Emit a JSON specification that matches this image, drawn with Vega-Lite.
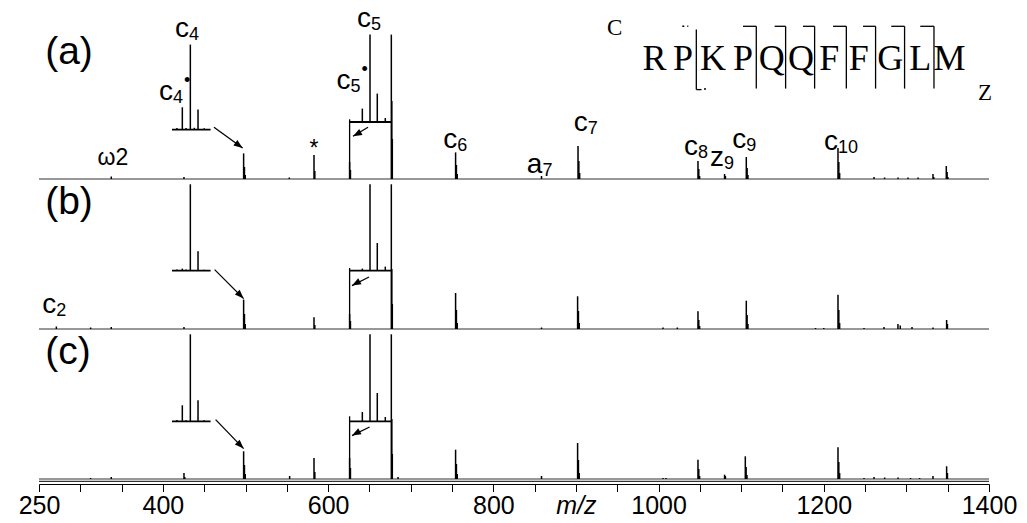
{
  "$schema": "https://vega.github.io/schema/vega-lite/v6.json",
  "padding": {"left": 18, "top": 4, "right": 5, "bottom": 5},
  "background": "white",
  "config": {"view": {"stroke": null}},
  "data": {"values": [
    {"panel":"a","kind":"base","mz":250,"mz2":1400,"y":0},
    {"panel":"b","kind":"base","mz":250,"mz2":1400,"y":0},
    {"panel":"c","kind":"base","mz":250,"mz2":1400,"y":0},
    {"panel":"c","kind":"ax","mz":250,"mz2":1400,"y":-2.3},

    {"panel":"a","kind":"ib","mz":411,"mz2":457.7,"y":49.4},
    {"panel":"a","kind":"ib","mz":626,"mz2":676.5,"y":57},
    {"panel":"b","kind":"ib","mz":411,"mz2":457.7,"y":58.4},
    {"panel":"b","kind":"ib","mz":626,"mz2":676.5,"y":58.4},
    {"panel":"c","kind":"ib","mz":411,"mz2":457.7,"y":57.7},
    {"panel":"c","kind":"ib","mz":626,"mz2":676.5,"y":57.7},

    {"panel":"a","kind":"ln","mz":626,"mz2":626,"y":0,"y2":59.7},
    {"panel":"a","kind":"ln","mz":461.8,"mz2":496.5,"y":51.7,"y2":31},
    {"panel":"a","kind":"ln","mz":648.3,"mz2":630.1,"y":51.7,"y2":42.7},
    {"panel":"b","kind":"ln","mz":626,"mz2":626,"y":0,"y2":61},
    {"panel":"b","kind":"ln","mz":462.6,"mz2":497.7,"y":59.4,"y2":30.4},
    {"panel":"b","kind":"ln","mz":649.5,"mz2":628.9,"y":52,"y2":43.4},
    {"panel":"c","kind":"ln","mz":626,"mz2":626,"y":0,"y2":62.7},
    {"panel":"c","kind":"ln","mz":463.8,"mz2":497.7,"y":59.4,"y2":30.4},
    {"panel":"c","kind":"ln","mz":650.2,"mz2":628.9,"y":52,"y2":43.4},

    {"panel":"a","kind":"ln","mz":1118.3,"mz2":1118.3,"y":90.4,"y2":152.7},
    {"panel":"a","kind":"ln","mz":1153.8,"mz2":1153.8,"y":90.4,"y2":152.7},
    {"panel":"a","kind":"ln","mz":1188.9,"mz2":1188.9,"y":90.4,"y2":152.7},
    {"panel":"a","kind":"ln","mz":1227.3,"mz2":1227.3,"y":90.4,"y2":152.7},
    {"panel":"a","kind":"ln","mz":1262.7,"mz2":1262.7,"y":90.4,"y2":152.7},
    {"panel":"a","kind":"ln","mz":1297.8,"mz2":1297.8,"y":90.4,"y2":152.7},
    {"panel":"a","kind":"ln","mz":1333.4,"mz2":1333.4,"y":90.4,"y2":152.7},
    {"panel":"a","kind":"ln","mz":1102.2,"mz2":1118.3,"y":152.7,"y2":152.7},
    {"panel":"a","kind":"ln","mz":1140.5,"mz2":1153.8,"y":152.7,"y2":152.7},
    {"panel":"a","kind":"ln","mz":1174.8,"mz2":1188.9,"y":152.7,"y2":152.7},
    {"panel":"a","kind":"ln","mz":1211.2,"mz2":1227.3,"y":152.7,"y2":152.7},
    {"panel":"a","kind":"ln","mz":1247.5,"mz2":1262.7,"y":152.7,"y2":152.7},
    {"panel":"a","kind":"ln","mz":1281.7,"mz2":1297.8,"y":152.7,"y2":152.7},
    {"panel":"a","kind":"ln","mz":1316.8,"mz2":1333.4,"y":152.7,"y2":152.7},
    {"panel":"a","kind":"ln","mz":1045.7,"mz2":1045.7,"y":89.4,"y2":149.4},
    {"panel":"a","kind":"ln","mz":1045.7,"mz2":1052,"y":89.4,"y2":89.4},
    {"panel":"a","kind":"dash","mz":1028.7,"mz2":1036,"y":152.7,"y2":152.7},
    {"panel":"a","kind":"dash","mz":1055,"mz2":1061,"y":90,"y2":90},

    {"panel":"a","kind":"ha","mz":496.5,"y":31},
    {"panel":"b","kind":"hb","mz":497.7,"y":30.4},
    {"panel":"c","kind":"hb","mz":497.7,"y":30.4},
    {"panel":"a","kind":"hc","mz":630.1,"y":42.7},
    {"panel":"b","kind":"hc","mz":628.9,"y":43.4},
    {"panel":"c","kind":"hc","mz":628.9,"y":43.4},

    {"panel":"a","kind":"pk","mz":337.5,"y":2.5,"y2":0},
    {"panel":"a","kind":"pk","mz":425.5,"y":2,"y2":0},
    {"panel":"a","kind":"pk","mz":553,"y":1.5,"y2":0},
    {"panel":"a","kind":"pk","mz":497.7,"y":25.6,"y2":0},
    {"panel":"a","kind":"pk","mz":498.7,"y":12,"y2":0},
    {"panel":"a","kind":"pk","mz":499.7,"y":4,"y2":0},
    {"panel":"a","kind":"pk","mz":582.9,"y":24,"y2":0},
    {"panel":"a","kind":"pk","mz":583.9,"y":8,"y2":0},
    {"panel":"a","kind":"pk","mz":626,"y":17,"y2":0},
    {"panel":"a","kind":"pk","mz":627,"y":9,"y2":0},
    {"panel":"a","kind":"pk","mz":676.5,"y":144.4,"y2":0},
    {"panel":"a","kind":"pk","mz":677.1,"y":78,"y2":0},
    {"panel":"a","kind":"pk","mz":677.7,"y":40,"y2":0},
    {"panel":"a","kind":"pk","mz":754.3,"y":26.6,"y2":0},
    {"panel":"a","kind":"pk","mz":755.3,"y":14,"y2":0},
    {"panel":"a","kind":"pk","mz":756.3,"y":5,"y2":0},
    {"panel":"a","kind":"pk","mz":858.3,"y":3,"y2":0},
    {"panel":"a","kind":"pk","mz":902.5,"y":33,"y2":0},
    {"panel":"a","kind":"pk","mz":903.5,"y":18,"y2":0},
    {"panel":"a","kind":"pk","mz":904.5,"y":6,"y2":0},
    {"panel":"a","kind":"pk","mz":1047.7,"y":18,"y2":0},
    {"panel":"a","kind":"pk","mz":1048.7,"y":10,"y2":0},
    {"panel":"a","kind":"pk","mz":1049.7,"y":3,"y2":0},
    {"panel":"a","kind":"pk","mz":1079.9,"y":5,"y2":0},
    {"panel":"a","kind":"pk","mz":1080.9,"y":3,"y2":0},
    {"panel":"a","kind":"pk","mz":1106.2,"y":22,"y2":0},
    {"panel":"a","kind":"pk","mz":1107.2,"y":11,"y2":0},
    {"panel":"a","kind":"pk","mz":1108.2,"y":4,"y2":0},
    {"panel":"a","kind":"pk","mz":1217.2,"y":31,"y2":0},
    {"panel":"a","kind":"pk","mz":1218.2,"y":17,"y2":0},
    {"panel":"a","kind":"pk","mz":1219.2,"y":6,"y2":0},
    {"panel":"a","kind":"pk","mz":1260.8,"y":2,"y2":0},
    {"panel":"a","kind":"pk","mz":1273.6,"y":1.5,"y2":0},
    {"panel":"a","kind":"pk","mz":1289.9,"y":1.5,"y2":0},
    {"panel":"a","kind":"pk","mz":1302,"y":1.5,"y2":0},
    {"panel":"a","kind":"pk","mz":1314.1,"y":1.5,"y2":0},
    {"panel":"a","kind":"pk","mz":1332.2,"y":5,"y2":0},
    {"panel":"a","kind":"pk","mz":1333.2,"y":2,"y2":0},
    {"panel":"a","kind":"pk","mz":1348.3,"y":13,"y2":0},
    {"panel":"a","kind":"pk","mz":1349.3,"y":7,"y2":0},
    {"panel":"a","kind":"pk","mz":1350.3,"y":2,"y2":0},
    {"panel":"a","kind":"pk","mz":417,"y":51,"y2":49.4},
    {"panel":"a","kind":"pk","mz":423.5,"y":71.7,"y2":49.4},
    {"panel":"a","kind":"pk","mz":428,"y":51,"y2":49.4},
    {"panel":"a","kind":"pk","mz":433.2,"y":134.4,"y2":49.4},
    {"panel":"a","kind":"pk","mz":438,"y":51.2,"y2":49.4},
    {"panel":"a","kind":"pk","mz":442.5,"y":69.4,"y2":49.4},
    {"panel":"a","kind":"pk","mz":450,"y":50.8,"y2":49.4},
    {"panel":"a","kind":"pk","mz":641.4,"y":70.4,"y2":57},
    {"panel":"a","kind":"pk","mz":650.7,"y":144.4,"y2":57},
    {"panel":"a","kind":"pk","mz":659.5,"y":85.4,"y2":57},
    {"panel":"a","kind":"pk","mz":669.2,"y":61,"y2":57},

    {"panel":"b","kind":"pk","mz":271,"y":2.5,"y2":0},
    {"panel":"b","kind":"pk","mz":312.5,"y":1.5,"y2":0},
    {"panel":"b","kind":"pk","mz":337.5,"y":2,"y2":0},
    {"panel":"b","kind":"pk","mz":425.5,"y":2,"y2":0},
    {"panel":"b","kind":"pk","mz":497.7,"y":29.4,"y2":0},
    {"panel":"b","kind":"pk","mz":498.7,"y":15,"y2":0},
    {"panel":"b","kind":"pk","mz":499.7,"y":5,"y2":0},
    {"panel":"b","kind":"pk","mz":582.9,"y":11.7,"y2":0},
    {"panel":"b","kind":"pk","mz":583.9,"y":4,"y2":0},
    {"panel":"b","kind":"pk","mz":626,"y":15,"y2":0},
    {"panel":"b","kind":"pk","mz":627,"y":8,"y2":0},
    {"panel":"b","kind":"pk","mz":676.5,"y":144.7,"y2":0},
    {"panel":"b","kind":"pk","mz":677.1,"y":60,"y2":0},
    {"panel":"b","kind":"pk","mz":677.7,"y":25,"y2":0},
    {"panel":"b","kind":"pk","mz":754.3,"y":36,"y2":0},
    {"panel":"b","kind":"pk","mz":755.3,"y":19,"y2":0},
    {"panel":"b","kind":"pk","mz":756.3,"y":6,"y2":0},
    {"panel":"b","kind":"pk","mz":858.3,"y":1.5,"y2":0},
    {"panel":"b","kind":"pk","mz":902,"y":32.7,"y2":0},
    {"panel":"b","kind":"pk","mz":903,"y":18,"y2":0},
    {"panel":"b","kind":"pk","mz":904,"y":6,"y2":0},
    {"panel":"b","kind":"pk","mz":1005.4,"y":1.5,"y2":0},
    {"panel":"b","kind":"pk","mz":1022.7,"y":1.5,"y2":0},
    {"panel":"b","kind":"pk","mz":1047.7,"y":17.7,"y2":0},
    {"panel":"b","kind":"pk","mz":1048.7,"y":9,"y2":0},
    {"panel":"b","kind":"pk","mz":1049.7,"y":3,"y2":0},
    {"panel":"b","kind":"pk","mz":1106.2,"y":28.3,"y2":0},
    {"panel":"b","kind":"pk","mz":1107.2,"y":14,"y2":0},
    {"panel":"b","kind":"pk","mz":1108.2,"y":5,"y2":0},
    {"panel":"b","kind":"pk","mz":1190,"y":1,"y2":0},
    {"panel":"b","kind":"pk","mz":1200,"y":1,"y2":0},
    {"panel":"b","kind":"pk","mz":1217.2,"y":34.3,"y2":0},
    {"panel":"b","kind":"pk","mz":1218.2,"y":19,"y2":0},
    {"panel":"b","kind":"pk","mz":1219.2,"y":6,"y2":0},
    {"panel":"b","kind":"pk","mz":1248.7,"y":1,"y2":0},
    {"panel":"b","kind":"pk","mz":1272.9,"y":2,"y2":0},
    {"panel":"b","kind":"pk","mz":1289.8,"y":5,"y2":0},
    {"panel":"b","kind":"pk","mz":1292.6,"y":3.5,"y2":0},
    {"panel":"b","kind":"pk","mz":1306.8,"y":2,"y2":0},
    {"panel":"b","kind":"pk","mz":1332.2,"y":1.5,"y2":0},
    {"panel":"b","kind":"pk","mz":1348.7,"y":9,"y2":0},
    {"panel":"b","kind":"pk","mz":1349.7,"y":5,"y2":0},
    {"panel":"b","kind":"pk","mz":417,"y":59.5,"y2":58.4},
    {"panel":"b","kind":"pk","mz":423.5,"y":60.4,"y2":58.4},
    {"panel":"b","kind":"pk","mz":428,"y":59.5,"y2":58.4},
    {"panel":"b","kind":"pk","mz":433.2,"y":144.7,"y2":58.4},
    {"panel":"b","kind":"pk","mz":442.5,"y":77.7,"y2":58.4},
    {"panel":"b","kind":"pk","mz":450,"y":59.3,"y2":58.4},
    {"panel":"b","kind":"pk","mz":641.4,"y":60.4,"y2":58.4},
    {"panel":"b","kind":"pk","mz":650.7,"y":144.7,"y2":58.4},
    {"panel":"b","kind":"pk","mz":659.5,"y":86,"y2":58.4},
    {"panel":"b","kind":"pk","mz":669.2,"y":62.4,"y2":58.4},

    {"panel":"c","kind":"pk","mz":312.5,"y":1,"y2":0},
    {"panel":"c","kind":"pk","mz":337.5,"y":2,"y2":0},
    {"panel":"c","kind":"pk","mz":425.5,"y":6,"y2":0},
    {"panel":"c","kind":"pk","mz":426.5,"y":2,"y2":0},
    {"panel":"c","kind":"pk","mz":497.7,"y":27.7,"y2":0},
    {"panel":"c","kind":"pk","mz":498.7,"y":14,"y2":0},
    {"panel":"c","kind":"pk","mz":499.7,"y":5,"y2":0},
    {"panel":"c","kind":"pk","mz":553.4,"y":3,"y2":0},
    {"panel":"c","kind":"pk","mz":582.9,"y":21,"y2":0},
    {"panel":"c","kind":"pk","mz":583.9,"y":7,"y2":0},
    {"panel":"c","kind":"pk","mz":626,"y":21,"y2":0},
    {"panel":"c","kind":"pk","mz":627,"y":11,"y2":0},
    {"panel":"c","kind":"pk","mz":676.5,"y":144.7,"y2":0},
    {"panel":"c","kind":"pk","mz":677.1,"y":60,"y2":0},
    {"panel":"c","kind":"pk","mz":677.7,"y":25,"y2":0},
    {"panel":"c","kind":"pk","mz":684.6,"y":2,"y2":0},
    {"panel":"c","kind":"pk","mz":754.3,"y":29.3,"y2":0},
    {"panel":"c","kind":"pk","mz":755.3,"y":15,"y2":0},
    {"panel":"c","kind":"pk","mz":756.3,"y":5,"y2":0},
    {"panel":"c","kind":"pk","mz":858.3,"y":3,"y2":0},
    {"panel":"c","kind":"pk","mz":902,"y":36,"y2":0},
    {"panel":"c","kind":"pk","mz":903,"y":19,"y2":0},
    {"panel":"c","kind":"pk","mz":904,"y":6,"y2":0},
    {"panel":"c","kind":"pk","mz":1005.4,"y":1,"y2":0},
    {"panel":"c","kind":"pk","mz":1009,"y":1,"y2":0},
    {"panel":"c","kind":"pk","mz":1047.7,"y":19.3,"y2":0},
    {"panel":"c","kind":"pk","mz":1048.7,"y":10,"y2":0},
    {"panel":"c","kind":"pk","mz":1049.7,"y":3,"y2":0},
    {"panel":"c","kind":"pk","mz":1079.9,"y":4.3,"y2":0},
    {"panel":"c","kind":"pk","mz":1080.9,"y":3,"y2":0},
    {"panel":"c","kind":"pk","mz":1105,"y":22.7,"y2":0},
    {"panel":"c","kind":"pk","mz":1106,"y":12,"y2":0},
    {"panel":"c","kind":"pk","mz":1107,"y":4,"y2":0},
    {"panel":"c","kind":"pk","mz":1217.2,"y":31.7,"y2":0},
    {"panel":"c","kind":"pk","mz":1218.2,"y":17,"y2":0},
    {"panel":"c","kind":"pk","mz":1219.2,"y":6,"y2":0},
    {"panel":"c","kind":"pk","mz":1248.7,"y":1,"y2":0},
    {"panel":"c","kind":"pk","mz":1260.8,"y":2,"y2":0},
    {"panel":"c","kind":"pk","mz":1273.7,"y":1.5,"y2":0},
    {"panel":"c","kind":"pk","mz":1289.9,"y":1.5,"y2":0},
    {"panel":"c","kind":"pk","mz":1305,"y":1,"y2":0},
    {"panel":"c","kind":"pk","mz":1316,"y":1,"y2":0},
    {"panel":"c","kind":"pk","mz":1332.2,"y":3,"y2":0},
    {"panel":"c","kind":"pk","mz":1348.7,"y":12.7,"y2":0},
    {"panel":"c","kind":"pk","mz":1349.7,"y":6,"y2":0},
    {"panel":"c","kind":"pk","mz":417,"y":59,"y2":57.7},
    {"panel":"c","kind":"pk","mz":423.5,"y":73.7,"y2":57.7},
    {"panel":"c","kind":"pk","mz":428,"y":58.8,"y2":57.7},
    {"panel":"c","kind":"pk","mz":433.2,"y":144.7,"y2":57.7},
    {"panel":"c","kind":"pk","mz":442.5,"y":78.7,"y2":57.7},
    {"panel":"c","kind":"pk","mz":450,"y":58.8,"y2":57.7},
    {"panel":"c","kind":"pk","mz":641.4,"y":67,"y2":57.7},
    {"panel":"c","kind":"pk","mz":650.7,"y":144.7,"y2":57.7},
    {"panel":"c","kind":"pk","mz":659.5,"y":86,"y2":57.7},
    {"panel":"c","kind":"pk","mz":669.2,"y":62,"y2":57.7},

    {"panel":"a","kind":"lab","mz":431.5,"y":142,"t":"c","s":"4","d":""},
    {"panel":"a","kind":"lab","mz":412.2,"y":79.4,"t":"c","s":"4","d":"•"},
    {"panel":"a","kind":"lab","mz":652,"y":152,"t":"c","s":"5","d":""},
    {"panel":"a","kind":"lab","mz":627.2,"y":90.4,"t":"c","s":"5","d":"•"},
    {"panel":"a","kind":"lab","mz":756.4,"y":31,"t":"c","s":"6","d":""},
    {"panel":"a","kind":"lab","mz":859.4,"y":6,"t":"a","s":"7","d":""},
    {"panel":"a","kind":"lab","mz":914.3,"y":47.7,"t":"c","s":"7","d":""},
    {"panel":"a","kind":"lab","mz":1047.8,"y":24.4,"t":"c","s":"8","d":""},
    {"panel":"a","kind":"lab","mz":1079.2,"y":12.7,"t":"z","s":"9","d":""},
    {"panel":"a","kind":"lab","mz":1106.2,"y":31,"t":"c","s":"9","d":""},
    {"panel":"a","kind":"lab","mz":1217.2,"y":29.4,"t":"c","s":"10","d":""},
    {"panel":"b","kind":"lab","mz":271,"y":16,"t":"c","s":"2","d":""},

    {"panel":"a","kind":"tx","mz":339.5,"y":14.4,"t":"ω2"},
    {"panel":"a","kind":"tx","mz":583,"y":23.5,"t":"*"},

    {"panel":"a","kind":"pl","mz":257.5,"y":115.5,"t":"(a)"},
    {"panel":"b","kind":"pl","mz":257.5,"y":114.7,"t":"(b)"},
    {"panel":"c","kind":"pl","mz":257.5,"y":114.7,"t":"(c)"},

    {"panel":"a","kind":"sq","mz":995.2,"y":108.7,"t":"R"},
    {"panel":"a","kind":"sq","mz":1029.6,"y":108.7,"t":"P"},
    {"panel":"a","kind":"sq","mz":1065.9,"y":108.7,"t":"K"},
    {"panel":"a","kind":"sq","mz":1102.2,"y":108.7,"t":"P"},
    {"panel":"a","kind":"sq","mz":1137.1,"y":108.7,"t":"Q"},
    {"panel":"a","kind":"sq","mz":1172.4,"y":108.7,"t":"Q"},
    {"panel":"a","kind":"sq","mz":1206.7,"y":108.7,"t":"F"},
    {"panel":"a","kind":"sq","mz":1242.4,"y":108.7,"t":"F"},
    {"panel":"a","kind":"sq","mz":1280.5,"y":108.7,"t":"G"},
    {"panel":"a","kind":"sq","mz":1316.8,"y":108.7,"t":"L"},
    {"panel":"a","kind":"sq","mz":1352.3,"y":108.7,"t":"M"},
    {"panel":"a","kind":"sr","mz":946.8,"y":144.4,"t":"C"},
    {"panel":"a","kind":"sr","mz":1395.2,"y":79.4,"t":"Z"}
  ]},
  "facet": {"row": {"field": "panel", "type": "nominal", "title": null, "header": {"labels": false, "title": null}}},
  "spacing": {"row": 0},
  "bounds": "flush",
  "spec": {
    "width": 950,
    "height": 150,
    "encoding": {
      "x": {"field": "mz", "type": "quantitative",
        "scale": {"domain": [250, 1400], "nice": false, "zero": false},
        "axis": {
          "values": [250,300,350,400,450,500,550,600,650,700,750,800,850,900,950,1000,1050,1100,1150,1200,1250,1300,1350,1400],
          "format": "d",
          "labelExpr": "datum.value == 900 ? 'm/z' : (indexof([250,400,600,800,1000,1200,1400], datum.value) >= 0 ? datum.label : '')",
          "title": null, "grid": false, "offset": 5, "tickSize": 7.5,
          "tickColor": "black", "domainColor": "black", "domainWidth": 1, "tickWidth": 1,
          "labelFont": "Liberation Sans", "labelFontSize": 25, "labelColor": "black",
          "labelPadding": 2, "labelFlush": false, "labelOverlap": false, "labelBound": false,
          "labelFontStyle": {"condition": {"test": "datum.value == 900", "value": "italic"}, "value": "normal"}
        }},
      "y": {"field": "y", "type": "quantitative",
        "scale": {"domain": [0, 150], "nice": false, "zero": false}, "axis": null}
    },
    "layer": [
      {"transform": [{"filter": "datum.kind == 'base'"}],
       "mark": {"type": "rule", "color": "#333", "strokeWidth": 1.2},
       "encoding": {"x2": {"field": "mz2"}}},
      {"transform": [{"filter": "datum.kind == 'ax'"}],
       "mark": {"type": "rule", "color": "black", "strokeWidth": 1},
       "encoding": {"x2": {"field": "mz2"}}},
      {"transform": [{"filter": "datum.kind == 'ib'"}],
       "mark": {"type": "rule", "color": "black", "strokeWidth": 1.8},
       "encoding": {"x2": {"field": "mz2"}}},
      {"transform": [{"filter": "datum.kind == 'ln'"}],
       "mark": {"type": "rule", "color": "black", "strokeWidth": 1.3},
       "encoding": {"x2": {"field": "mz2"}, "y2": {"field": "y2"}}},
      {"transform": [{"filter": "datum.kind == 'dash'"}],
       "mark": {"type": "rule", "color": "black", "strokeWidth": 1.5, "strokeDash": [2, 3]},
       "encoding": {"x2": {"field": "mz2"}, "y2": {"field": "y2"}}},
      {"transform": [{"filter": "datum.kind == 'pk'"}],
       "mark": {"type": "rule", "color": "black", "strokeWidth": 1.5},
       "encoding": {"y2": {"field": "y2"}}},
      {"transform": [{"filter": "datum.kind == 'ha'"}],
       "mark": {"type": "point", "shape": "M0,0L-2,-0.75L-2,0.75Z", "size": 81, "angle": 36, "filled": true, "color": "black", "opacity": 1, "strokeWidth": 0}},
      {"transform": [{"filter": "datum.kind == 'hb'"}],
       "mark": {"type": "point", "shape": "M0,0L-2,-0.75L-2,0.75Z", "size": 81, "angle": 45, "filled": true, "color": "black", "opacity": 1, "strokeWidth": 0}},
      {"transform": [{"filter": "datum.kind == 'hc'"}],
       "mark": {"type": "point", "shape": "M0,0L-2,-0.75L-2,0.75Z", "size": 81, "angle": 151, "filled": true, "color": "black", "opacity": 1, "strokeWidth": 0}},
      {"transform": [{"filter": "datum.kind == 'lab'"}],
       "mark": {"type": "text", "align": "right", "baseline": "alphabetic", "font": "Liberation Sans", "fontSize": 28, "color": "black"},
       "encoding": {"text": {"field": "t"}}},
      {"transform": [{"filter": "datum.kind == 'lab'"}],
       "mark": {"type": "text", "align": "left", "baseline": "alphabetic", "font": "Liberation Sans", "fontSize": 18, "dy": 3, "color": "black"},
       "encoding": {"text": {"field": "s"}}},
      {"transform": [{"filter": "datum.kind == 'lab' && datum.d != ''"}],
       "mark": {"type": "text", "align": "left", "baseline": "alphabetic", "font": "Liberation Sans", "fontSize": 18, "dx": 11, "dy": -14, "color": "black"},
       "encoding": {"text": {"field": "d"}}},
      {"transform": [{"filter": "datum.kind == 'tx'"}],
       "mark": {"type": "text", "align": "center", "baseline": "alphabetic", "font": "Liberation Sans", "fontSize": 23, "color": "black"},
       "encoding": {"text": {"field": "t"}}},
      {"transform": [{"filter": "datum.kind == 'pl'"}],
       "mark": {"type": "text", "align": "left", "baseline": "alphabetic", "font": "Liberation Sans", "fontSize": 39, "color": "black"},
       "encoding": {"text": {"field": "t"}}},
      {"transform": [{"filter": "datum.kind == 'sq'"}],
       "mark": {"type": "text", "align": "center", "baseline": "alphabetic", "font": "Liberation Serif", "fontSize": 36, "color": "black"},
       "encoding": {"text": {"field": "t"}}},
      {"transform": [{"filter": "datum.kind == 'sr'"}],
       "mark": {"type": "text", "align": "center", "baseline": "alphabetic", "font": "Liberation Serif", "fontSize": 23, "color": "black"},
       "encoding": {"text": {"field": "t"}}}
    ]
  }
}
